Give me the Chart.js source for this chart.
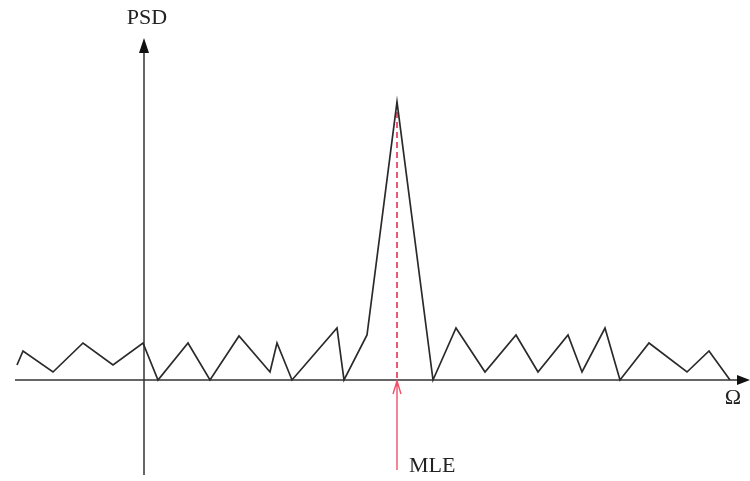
<html>
<head>
<script src="https://cdn.jsdelivr.net/npm/chart.js@4.4.1/dist/chart.umd.min.js"></script>
<style>
 body { margin: 0; background: #fff; }
</style>
</head>
<body>
<canvas id="myChart" width="750" height="481"></canvas>
<script>
 // frequency positions (y axis at 0) and PSD heights above the baseline
 var omega = [-127, -121, -91, -61, -31, -1, 14, 44, 66, 95, 126, 133, 148, 193, 200, 223, 253,
              289, 312, 341, 372, 394, 424, 438, 461, 476, 505, 543, 565, 586];
 var psd = [15, 29, 8, 37, 15, 37, 0, 37, 0, 44, 8, 37, 0, 52, 0, 45, 278,
            0, 52, 8, 45, 8, 45, 8, 52, 0, 37, 8, 29, 0];
 var mle = 253;
 var xLabel = "Ω";
 var yLabel = "PSD";
 var mleLabel = "MLE";

 var pts = [];
 for (var i = 0; i < omega.length; i++) {
   pts.push({x: omega[i], y: psd[i]});
 }

 function arrowHead(ctx, x, y, dir) {
   ctx.beginPath();
   if (dir == "up") {
     ctx.moveTo(x, y);
     ctx.lineTo(x - 5, y + 15);
     ctx.lineTo(x + 5, y + 15);
   } else {
     ctx.moveTo(x, y);
     ctx.lineTo(x - 13, y - 5);
     ctx.lineTo(x - 13, y + 5);
   }
   ctx.closePath();
   ctx.fill();
 }

 var axesPlugin = {
   id: "axes",
   beforeDatasetsDraw: function(chart) {
     var ctx = chart.ctx;
     var xs = chart.scales.x, ys = chart.scales.y;
     var x0 = xs.getPixelForValue(0), y0 = ys.getPixelForValue(0);
     ctx.save();
     ctx.strokeStyle = "#333";
     ctx.fillStyle = "#111";
     ctx.lineWidth = 1.5;
     // horizontal axis
     ctx.beginPath();
     ctx.moveTo(xs.getPixelForValue(-129), y0);
     ctx.lineTo(xs.getPixelForValue(598), y0);
     ctx.stroke();
     arrowHead(ctx, xs.getPixelForValue(606), y0, "right");
     // vertical axis
     ctx.beginPath();
     ctx.moveTo(x0, ys.getPixelForValue(-95));
     ctx.lineTo(x0, ys.getPixelForValue(330));
     ctx.stroke();
     arrowHead(ctx, x0, ys.getPixelForValue(342), "up");
     // red dashed marker at MLE
     var xm = xs.getPixelForValue(mle);
     ctx.strokeStyle = "#e8485e";
     ctx.lineWidth = 1.8;
     ctx.setLineDash([6, 4]);
     ctx.beginPath();
     ctx.moveTo(xm, ys.getPixelForValue(278));
     ctx.lineTo(xm, y0);
     ctx.stroke();
     ctx.setLineDash([]);
     // red arrow below axis
     ctx.strokeStyle = "#f0506a";
     ctx.lineWidth = 1.4;
     ctx.beginPath();
     ctx.moveTo(xm, ys.getPixelForValue(-90));
     ctx.lineTo(xm, y0 + 1);
     ctx.moveTo(xm - 4, y0 + 14);
     ctx.lineTo(xm, y0 + 1);
     ctx.lineTo(xm + 4, y0 + 14);
     ctx.stroke();
     // labels
     ctx.fillStyle = "#222";
     ctx.font = "22px 'Liberation Serif', serif";
     ctx.textAlign = "center";
     ctx.textBaseline = "middle";
     ctx.fillText(yLabel, x0 + 3, ys.getPixelForValue(362));
     ctx.fillText(xLabel, xs.getPixelForValue(589), y0 + 18);
     ctx.textAlign = "left";
     ctx.fillText(mleLabel, xm + 12, ys.getPixelForValue(-86));
     ctx.restore();
   }
 };

 new Chart("myChart", {
   type: "scatter",
   data: {
     datasets: [{
       data: pts,
       showLine: true,
       borderColor: "#2a2a2a",
       borderWidth: 1.7,
       pointRadius: 0,
       fill: false,
       tension: 0
     }]
   },
   options: {
     responsive: false,
     animation: false,
     layout: { padding: 0 },
     scales: {
       x: { type: "linear", min: -144, max: 606, display: false },
       y: { type: "linear", min: -101, max: 380, display: false }
     },
     plugins: {
       legend: { display: false },
       tooltip: { enabled: false }
     }
   },
   plugins: [axesPlugin]
 });
</script>
</body>
</html>
